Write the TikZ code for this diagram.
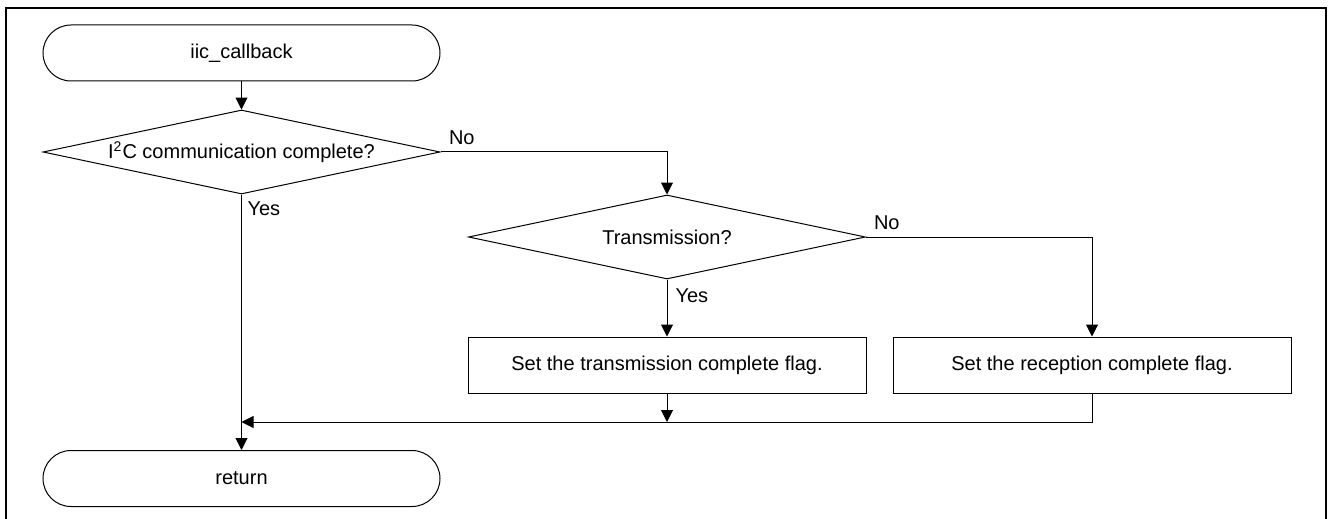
\documentclass[tikz,border=0pt]{standalone}
\usepackage{fontspec}
\setmainfont{Liberation Sans}
\usetikzlibrary{shapes.geometric,arrows.meta}

\begin{document}
\begin{tikzpicture}[x=0.5pt,y=-0.5pt,>={Triangle[length=6pt,width=6pt]},
  line width=0.5pt,font=\fontsize{10}{12}\selectfont,
  term/.style={draw,rectangle,rounded corners=14pt,minimum width=198.5pt,minimum height=28pt,inner sep=0pt},
  decision/.style={draw,diamond,aspect=4.7,minimum width=198.5pt,minimum height=42pt,inner sep=0pt},
  proc/.style={draw,rectangle,minimum width=199pt,minimum height=28pt,inner sep=0pt},
  lbl/.style={inner sep=0pt,anchor=base west}]
  \useasboundingbox (0,0) rectangle (1328,519);
  % frame, open at the bottom
  \begin{scope}
    \clip (0,0) rectangle (1328,519);
    \draw[line width=1pt] (5.5,8.5) rectangle (1325.5,560);
  \end{scope}

  % steps
  \node[term] (start) at (241.5,53) {iic\_callback};
  \node[decision] (done) at (241.5,152) {I\textsuperscript{2}C communication complete?};
  \node[decision] (tx) at (667,237) {Transmission?};
  \node[proc] (settx) at (667,365) {Set the transmission complete flag.};
  \node[proc] (setrx) at (1092,365) {Set the reception complete flag.};
  \node[term] (ret) at (241.5,478.5) {return};
  \coordinate (joinrow) at (0,422);

  % branch labels
  \node[lbl] (noDone) at ([xshift=4pt,yshift=3.5pt]done.east) {No};
  \node[lbl] (yesDone) at ([xshift=2.75pt,yshift=-10.5pt]done.south) {Yes};
  \node[lbl] (noTx) at ([xshift=3.75pt,yshift=4pt]tx.east) {No};
  \node[lbl] (yesTx) at ([xshift=4pt,yshift=-11.3pt]tx.south) {Yes};

  % flow
  \draw[->] (start) -- (done);
  \draw[->] (done.east) -| (tx.north);
  \draw[->] (done.south) -- (ret.north);
  \draw[->] (tx.east) -| (setrx.north);
  \draw[->] (tx.south) -- (settx.north);
  \draw[->] (settx.south) -- (settx.south |- joinrow);
  \draw[->] (setrx.south) |- (done.south |- joinrow);
\end{tikzpicture}
\end{document}
